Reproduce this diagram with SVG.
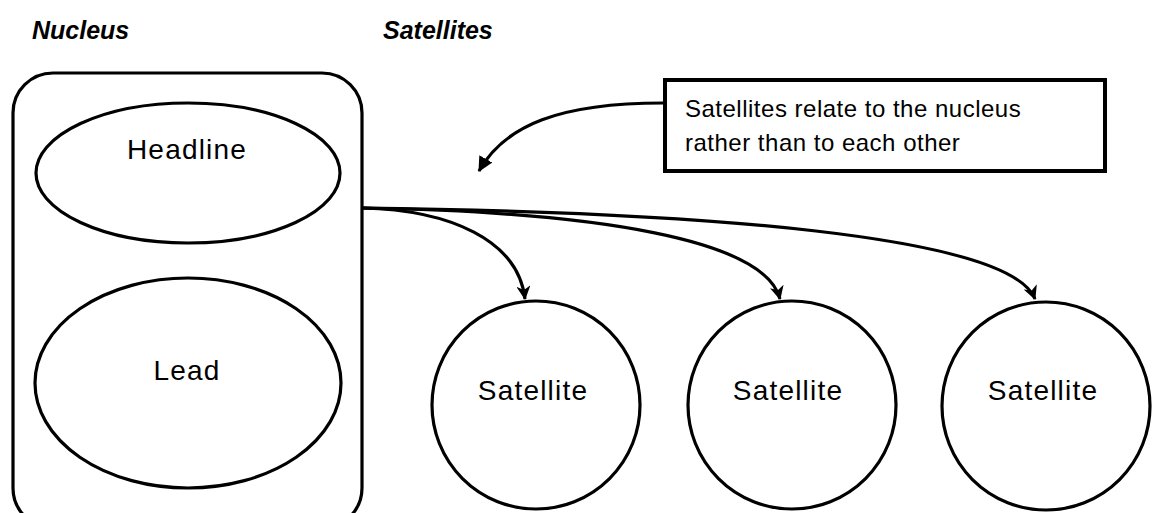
<svg xmlns="http://www.w3.org/2000/svg" width="1152" height="513" viewBox="0 0 1152 513">
<style>
.shape{fill:#fff;stroke:#000;stroke-width:3.2}
.conn{fill:none;stroke:#000;stroke-width:3.2}
.lbl{font-family:"Liberation Sans",Arial,sans-serif;font-size:28px;letter-spacing:1.2px;fill:#000;text-anchor:middle}
.title{font-family:"Liberation Sans",Arial,sans-serif;font-size:25px;font-weight:bold;font-style:italic;fill:#000}
.note{font-family:"Liberation Sans",Arial,sans-serif;font-size:24px;letter-spacing:0.5px;fill:#000}
</style>
<defs>
<marker id="ah" viewBox="0 0 14 14" refX="13" refY="7" markerWidth="14" markerHeight="14" markerUnits="userSpaceOnUse" orient="auto">
<path d="M0,0 L14,7 L0,14 L4,7 Z" fill="#000"/>
</marker>
<marker id="ah2" viewBox="0 0 14 14" refX="13" refY="7" markerWidth="15" markerHeight="15" markerUnits="userSpaceOnUse" orient="auto">
<path d="M0,0 L14,7 L0,14 Z" fill="#000"/>
</marker>
</defs>
<rect width="1152" height="513" fill="#fff"/>
<text class="title" x="32" y="39">Nucleus</text>
<text class="title" x="383" y="39">Satellites</text>
<g id="nucleus">
<rect class="shape" x="13" y="73" width="349" height="455" rx="40" ry="40"/>
</g>
<g id="headline">
<ellipse class="shape" cx="188" cy="173" rx="152" ry="70"/>
<text class="lbl" x="187" y="159">Headline</text>
</g>
<g id="lead">
<ellipse class="shape" cx="188" cy="383" rx="153" ry="105"/>
<text class="lbl" x="187" y="380">Lead</text>
</g>
<g id="satellite1">
<circle class="shape" cx="536" cy="405" r="104"/>
<text class="lbl" x="533" y="400">Satellite</text>
</g>
<g id="satellite2">
<circle class="shape" cx="792" cy="405" r="104"/>
<text class="lbl" x="788" y="400">Satellite</text>
</g>
<g id="satellite3">
<circle class="shape" cx="1046" cy="406" r="104"/>
<text class="lbl" x="1043" y="400">Satellite</text>
</g>
<g id="note">
<rect x="665" y="80" width="440" height="91" fill="#fff" stroke="#000" stroke-width="4"/>
<text class="note" x="685" y="117">Satellites relate to the nucleus</text>
<text class="note" x="685" y="151">rather than to each other</text>
</g>
<g id="connectors">
<path class="conn" d="M362,208 C450,210 518,240 525,299" marker-end="url(#ah)"/>
<path class="conn" d="M362,208 C600,212 765,240 780,299" marker-end="url(#ah)"/>
<path class="conn" d="M362,208 C700,212 1010,235 1035,299" marker-end="url(#ah)"/>
<path class="conn" d="M663,103 C560,103 505,125 479,171" marker-end="url(#ah2)"/>
</g>
</svg>
